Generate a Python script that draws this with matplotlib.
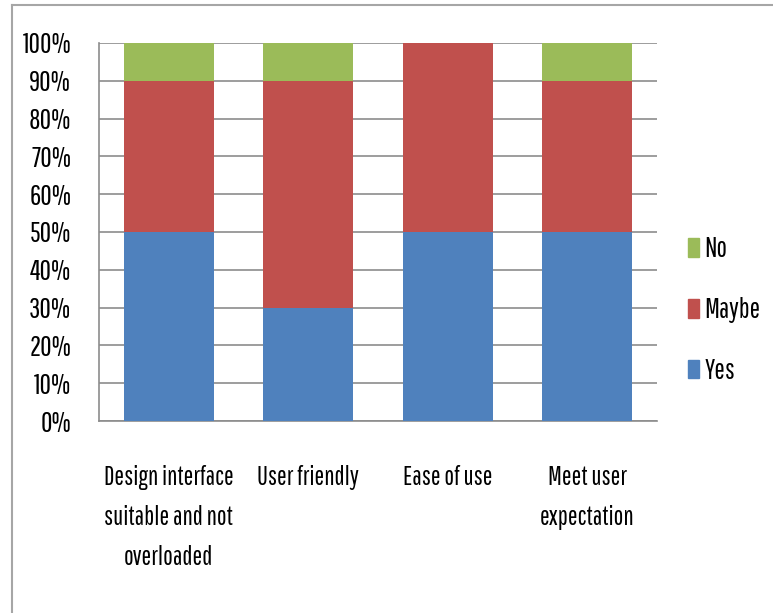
import matplotlib
matplotlib.use("Agg")
import matplotlib.pyplot as plt
from matplotlib.lines import Line2D
from matplotlib.patches import Patch
from matplotlib import font_manager

categories = ["Design interface\nsuitable and not\noverloaded", "User friendly",
              "Ease of use", "Meet user\nexpectation"]
yes = [50, 30, 50, 50]
maybe = [40, 60, 50, 40]
no = [10, 10, 0, 10]
y_ticks = [0, 10, 20, 30, 40, 50, 60, 70, 80, 90, 100]
y_tick_labels = [f"{v}%" for v in y_ticks]

# pick a narrow sans face for all chart text
names = {f.name for f in font_manager.fontManager.ttflist}
candidates = ["Pathway Gothic One", "Sofia Sans Extra Condensed",
              "Fira Sans Extra Condensed", "Roboto Condensed"]
family = next((c for c in candidates if c in names), "DejaVu Sans")
plt.rcParams["font.family"] = [family, "DejaVu Sans"]

c_yes, c_maybe, c_no = "#4F81BD", "#C0504D", "#9BBB59"
grid_c = "#8C8C8C"
fs = 20
fs_cat = 18.5

fig = plt.figure(figsize=(7.73, 6.13), dpi=100)
ax = fig.add_axes([0.128, 0.3132, 0.722, 0.6167])

x = range(len(categories))
w = 0.645
ax.bar(x, yes, w, color=c_yes, zorder=3)
ax.bar(x, maybe, w, bottom=yes, color=c_maybe, zorder=3)
bottom2 = [a + b for a, b in zip(yes, maybe)]
ax.bar(x, no, w, bottom=bottom2, color=c_no, zorder=3)

ax.set_xlim(-0.5, len(categories) - 0.5)
ax.set_ylim(0, 100)
ax.set_yticks(y_ticks)
ax.set_yticklabels(y_tick_labels, fontsize=fs)
ax.yaxis.grid(True, color=grid_c, linewidth=1.2, zorder=0)
ax.set_axisbelow(True)
ax.tick_params(axis="y", length=0, pad=20)
ax.set_xticks(list(x))
ax.set_xticklabels(categories, fontsize=fs_cat, linespacing=1.75, va="top")
ax.tick_params(axis="x", length=0, pad=32)

for s in ["top", "right"]:
    ax.spines[s].set_visible(False)
ax.spines["left"].set_color(grid_c)
ax.spines["left"].set_linewidth(1.2)
ax.spines["bottom"].set_color(grid_c)
ax.spines["bottom"].set_linewidth(1.2)

handles = [Patch(color=c_no, label="No"), Patch(color=c_maybe, label="Maybe"),
           Patch(color=c_yes, label="Yes")]
fig.legend(handles=handles, loc="center left", bbox_to_anchor=(0.89, 0.494),
           frameon=False, fontsize=fs, handlelength=0.4, handleheight=0.65,
           handletextpad=0.18, labelspacing=1.25, borderpad=0, borderaxespad=0)

# outer chart border
fx0 = 12 / 773
fy1 = 1 - 5 / 613
fig.add_artist(Line2D([fx0, fx0], [0, fy1], transform=fig.transFigure,
                      color="#A6A6A6", linewidth=1.5))
fig.add_artist(Line2D([fx0, 1], [fy1, fy1], transform=fig.transFigure,
                      color="#A6A6A6", linewidth=1.5))

fig.savefig("out.png", dpi=100)
